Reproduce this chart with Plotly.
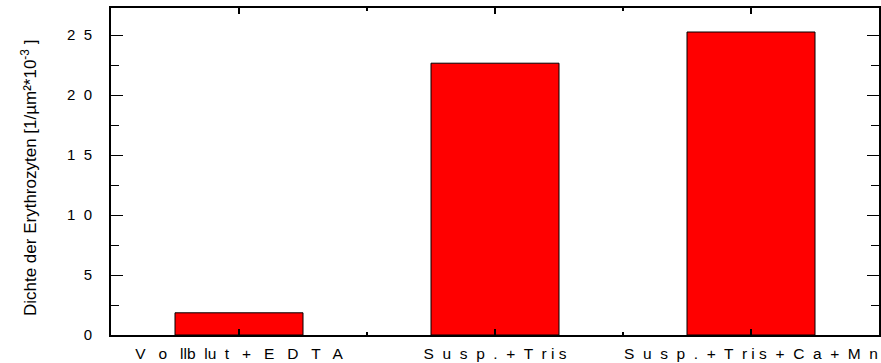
import plotly.graph_objects as go

categories = ["V   o   llb  lu  t   +   E   D   T   A",
              "S  u  s  p  .  +  T  r i s",
              "S  u  s  p  .  +  T  r i s  +  C  a  +  M  n"]
values = [1.85, 22.65, 25.25]
y_tickvals = [0, 5, 10, 15, 20, 25]
y_ticktext = ["0", "5", "1  0", "1  5", "2  0", "2  5"]

x_pos = list(range(len(categories)))
FAM = "Liberation Sans, Arial, sans-serif"

fig = go.Figure()
fig.add_trace(go.Bar(
    x=x_pos, y=values, width=0.5,
    marker=dict(color="#FF0000", line=dict(color="black", width=1)),
))

fig.update_layout(
    width=881, height=363,
    margin=dict(l=111, r=2, t=8, b=28),
    plot_bgcolor="white", paper_bgcolor="white",
    showlegend=False,
    font=dict(family=FAM, size=15, color="black"),
    xaxis=dict(
        range=[-0.5, 2.5], tickvals=x_pos, ticktext=categories,
        ticks="inside", ticklen=6, tickwidth=2, tickcolor="black",
        showline=True, linewidth=2, linecolor="black", mirror="allticks",
        showgrid=False, zeroline=False, ticklabelstandoff=3, automargin=False,
        ticklabeloverflow="allow",
        minor=dict(tick0=0.5, dtick=1, ticks="inside", ticklen=3, tickwidth=2, tickcolor="black", showgrid=False),
        tickfont=dict(family=FAM, size=15.5, color="black"),
    ),
    yaxis=dict(
        range=[0, 27.25], tickvals=y_tickvals, ticktext=y_ticktext,
        ticks="inside", ticklen=12, tickwidth=1, tickcolor="black",
        showline=True, linewidth=2, linecolor="black", mirror="allticks",
        showgrid=False, zeroline=False, ticklabelstandoff=14, automargin=False,
        minor=dict(tickvals=[2.5, 7.5, 12.5, 17.5, 22.5], ticks="inside", ticklen=8, tickwidth=1, tickcolor="black", showgrid=False),
        tickfont=dict(family=FAM, size=15, color="black"),
    ),
    annotations=[dict(
        text="Dichte der Erythrozyten [1/µm²*10<sup>-3</sup> ]",
        xref="paper", yref="paper", x=(29 - 111) / 768, y=0.48,
        xanchor="center", yanchor="middle", textangle=-90, showarrow=False,
        font=dict(family=FAM, size=17, color="black"),
    )],
)

fig.write_html("out.html", config={"displayModeBar": False},
               post_script="document.body.style.margin='0';document.body.style.overflow='hidden';")
